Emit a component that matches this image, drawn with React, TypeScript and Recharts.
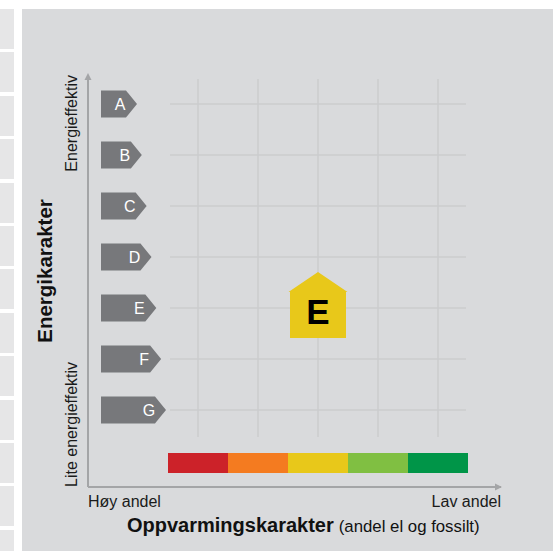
import React from "react";
import {
  ComposedChart,
  XAxis,
  YAxis,
  Scatter,
  ReferenceLine,
  ReferenceArea,
  ReferenceDot,
} from "recharts";

// energy ratings, top (best) to bottom (worst)
const ratings = ["A", "B", "C", "D", "E", "F", "G"];
// heating classes, high share el/fossil -> low share
const heatingColors = ["#cc2229", "#f47b20", "#e8c81a", "#80bf42", "#009548"];
const xEndLabels = ["Høy andel", "Lav andel"];
const yEndLabels = ["Lite energieffektiv", "Energieffektiv"];
const currentRating = "E";
const currentHeating = 2;

const X_MIN = -4 / 3;
const X_MAX = 5.55;
const Y_MIN = -1.51;
const Y_MAX = 6.569;
const BADGE_X = -1.1167;

const FONT = "'Liberation Sans', Arial, Helvetica, sans-serif";
const BG = "#d9dadc";
const GRID = "#cbccce";
const AXIS = "#a4a5a7";
const BADGE = "#77787b";

const rowOf = (r: string) => ratings.length - 1 - ratings.indexOf(r);

const badgeData = ratings.map((r, i) => ({ x: BADGE_X, y: rowOf(r), rating: r, idx: i }));
const houseData = [{ x: currentHeating + 0.5, y: rowOf(currentRating), rating: currentRating }];

const Badge = (props: any) => {
  const { cx, cy, payload } = props;
  const h = 27;
  const tip = cx + 36 + payload.idx * 4.83;
  const body = tip - 11;
  const d = `M${cx},${cy - h / 2} L${body},${cy - h / 2} L${tip},${cy} L${body},${cy + h / 2} L${cx},${cy + h / 2} Z`;
  return (
    <g>
      <path d={d} fill={BADGE} />
      <text x={tip - 17} y={cy + 5.8} fill="#ffffff" fontSize={16} fontFamily={FONT} textAnchor="middle">
        {payload.rating}
      </text>
    </g>
  );
};

const House = (props: any) => {
  const { cx, cy, payload } = props;
  const d = `M${cx},${cy - 36} L${cx + 29.5},${cy - 16} L${cx + 28},${cy - 16} L${cx + 28},${cy + 30} L${cx - 28},${cy + 30} L${cx - 28},${cy - 16} L${cx - 29.5},${cy - 16} Z`;
  return (
    <g>
      <path d={d} fill={heatingColors[currentHeating]} />
      <text x={cx} y={cy + 16} fill="#000000" fontSize={35} fontWeight="bold" fontFamily={FONT} textAnchor="middle">
        {payload.rating}
      </text>
    </g>
  );
};

const ArrowUp = (props: any) => {
  const { cx, cy } = props;
  return <path d={`M${cx},${cy - 2} L${cx + 3.5},${cy + 5} L${cx - 3.5},${cy + 5} Z`} fill={AXIS} />;
};

const ArrowRight = (props: any) => {
  const { cx, cy } = props;
  return <path d={`M${cx + 1},${cy} L${cx - 6},${cy - 3.5} L${cx - 6},${cy + 3.5} Z`} fill={AXIS} />;
};

const XTick = ({ x, y, index }: any) => (
  <text x={x} y={y} textAnchor={index === 0 ? "start" : "end"} fontSize={16} fontFamily={FONT} fill="#1a1a1a">
    {xEndLabels[index]}
  </text>
);

const YTick = ({ x, y, index }: any) => (
  <text
    x={x}
    y={y}
    transform={`rotate(-90, ${x}, ${y})`}
    textAnchor={index === 0 ? "start" : "end"}
    fontSize={16}
    fontFamily={FONT}
    fill="#1a1a1a"
  >
    {yEndLabels[index]}
  </text>
);

const XTitle = ({ viewBox }: any) => (
  <text x={viewBox.x + 39} y={viewBox.y + 45} fontFamily={FONT} fill="#111111">
    <tspan fontSize={20} fontWeight="bold">Oppvarmingskarakter</tspan>
    <tspan dx={5} fontSize={16.8}>(andel el og fossilt)</tspan>
  </text>
);

const YTitle = ({ viewBox }: any) => {
  const x = viewBox.x + 13.5;
  const y = viewBox.y + 196;
  return (
    <text
      x={x}
      y={y}
      transform={`rotate(-90, ${x}, ${y})`}
      textAnchor="middle"
      fontSize={20.5}
      fontWeight="bold"
      fontFamily={FONT}
      fill="#111111"
    >
      Energikarakter
    </text>
  );
};

const stripes = Array.from({ length: 13 }, (_, i) => i);

export default function App() {
  const gridLeft = 0.0333;
  const gridRight = 4.9667;
  const gridTop = 6.49;
  const gridBottom = -0.53;

  return (
    <div style={{ position: "absolute", left: 0, top: 0, width: 553, height: 551, background: "#ffffff", overflow: "hidden" }}>
      {stripes.map((i) => (
        <div
          key={i}
          style={{ position: "absolute", left: 0, top: 9 + i * 43.4, width: 14, height: 40, background: "#e6e6e7" }}
        />
      ))}
      <div style={{ position: "absolute", left: 22, top: 9, right: 0, bottom: 0, background: BG }} />
      <div style={{ position: "absolute", left: 0, top: 0 }}>
        <ComposedChart width={553} height={551} margin={{ top: 75, right: 52, bottom: 0, left: 38 }}>
          <XAxis
            type="number"
            dataKey="x"
            domain={[X_MIN, X_MAX]}
            allowDataOverflow
            ticks={[X_MIN, X_MAX]}
            interval={0}
            height={64}
            tickSize={0}
            tickMargin={20}
            tickLine={false}
            axisLine={{ stroke: AXIS, strokeWidth: 2 }}
            tick={<XTick />}
            label={XTitle}
          />
          <YAxis
            type="number"
            dataKey="y"
            domain={[Y_MIN, Y_MAX]}
            allowDataOverflow
            ticks={[Y_MIN, Y_MAX]}
            interval={0}
            width={50}
            tickSize={0}
            tickMargin={11}
            tickLine={false}
            axisLine={{ stroke: AXIS, strokeWidth: 2 }}
            tick={<YTick />}
            label={YTitle}
          />
          {heatingColors.map((c, i) => (
            <ReferenceArea
              key={c}
              x1={i}
              x2={i + 1}
              y1={-1.235}
              y2={-0.843}
              fill={c}
              fillOpacity={1}
              stroke="none"
              ifOverflow="visible"
            />
          ))}
          {ratings.map((r) => (
            <ReferenceLine
              key={r}
              segment={[
                { x: gridLeft, y: rowOf(r) },
                { x: gridRight, y: rowOf(r) },
              ]}
              stroke={GRID}
              strokeWidth={1.5}
              ifOverflow="visible"
            />
          ))}
          {heatingColors.map((c, i) => (
            <ReferenceLine
              key={"v" + c}
              segment={[
                { x: i + 0.5, y: gridBottom },
                { x: i + 0.5, y: gridTop },
              ]}
              stroke={GRID}
              strokeWidth={1.5}
              ifOverflow="visible"
            />
          ))}
          <ReferenceDot x={X_MIN} y={Y_MAX} r={0} shape={ArrowUp} ifOverflow="visible" />
          <ReferenceDot x={X_MAX} y={Y_MIN} r={0} shape={ArrowRight} ifOverflow="visible" />
          <Scatter data={badgeData} shape={Badge} isAnimationActive={false} />
          <Scatter data={houseData} shape={House} isAnimationActive={false} />
        </ComposedChart>
      </div>
    </div>
  );
}
